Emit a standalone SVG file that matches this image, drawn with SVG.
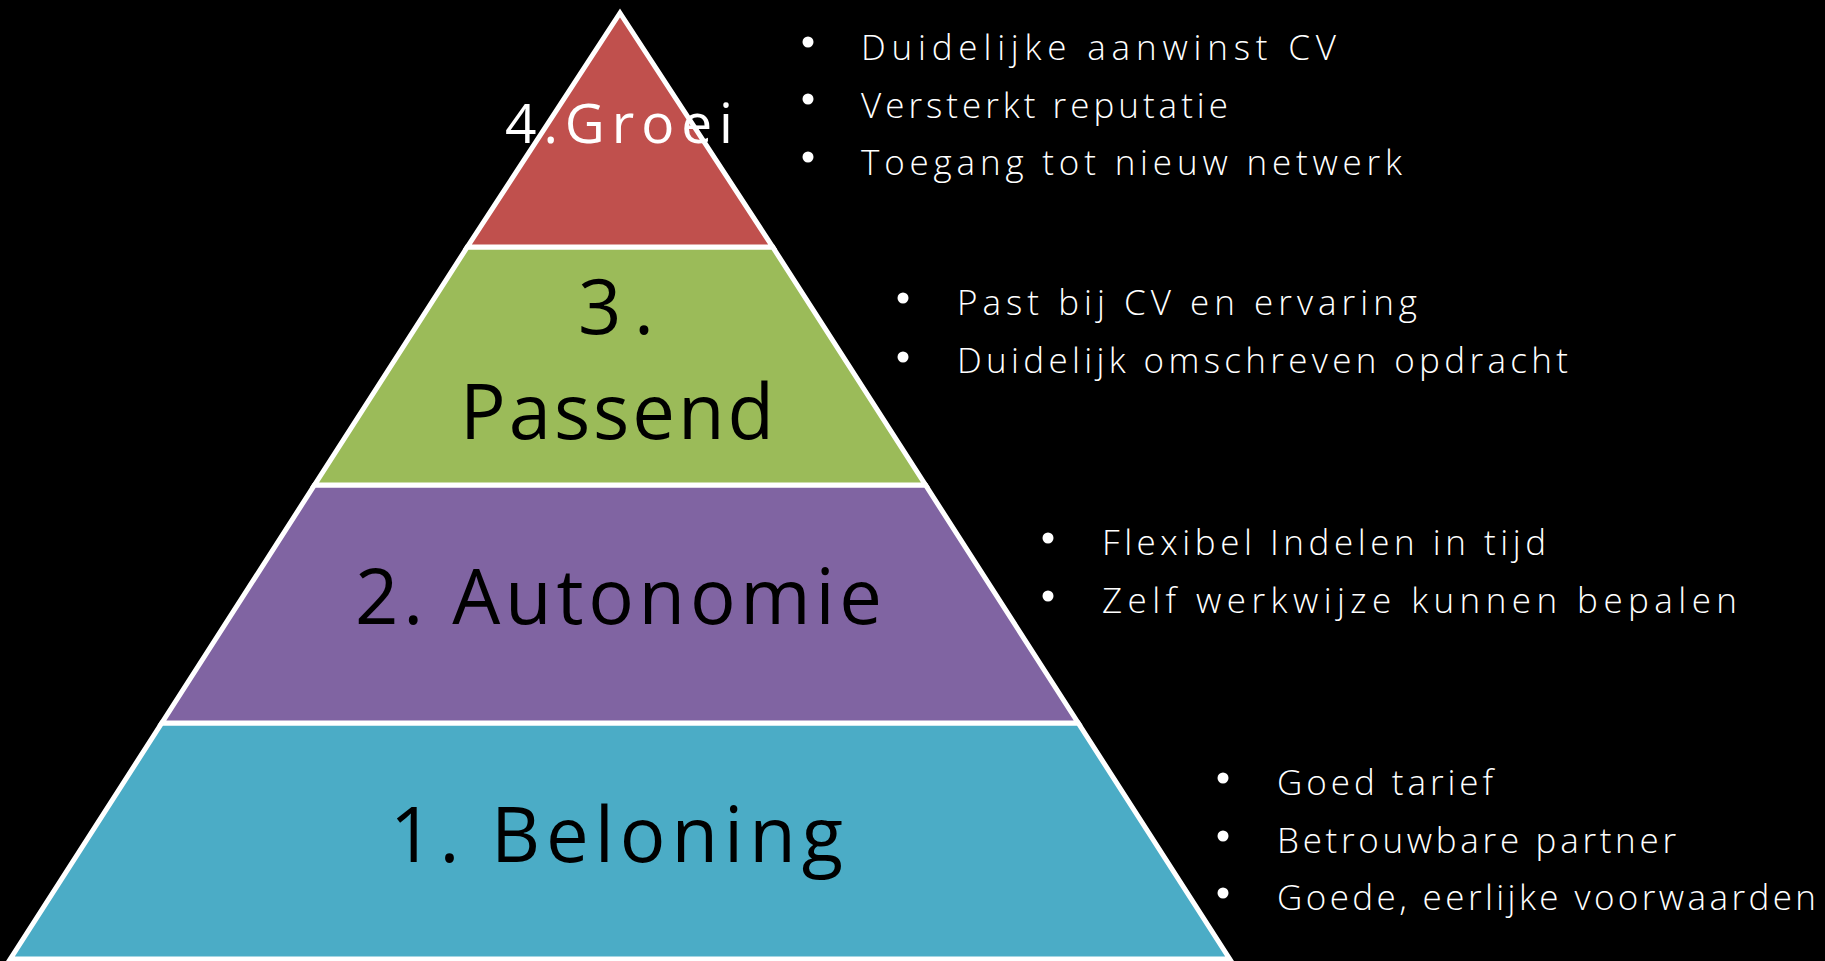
<svg xmlns="http://www.w3.org/2000/svg" width="1825" height="961" viewBox="0 0 1825 961">
  <style>
    .band { stroke: #FFFFFF; stroke-width: 5; stroke-linejoin: miter; }
    .lbl { font-family: "Open Sans", "Liberation Sans", sans-serif; font-size: 76px; fill: #000000; }
    .lbl-w { font-family: "Open Sans", "Liberation Sans", sans-serif; font-size: 55px; fill: #FFFFFF; }
    .item { font-family: "Open Sans", "Liberation Sans", sans-serif; font-weight: 300; font-size: 35px; fill: #FFFFFF; }
    .dot { fill: #FFFFFF; }
  </style>
  <rect x="0" y="0" width="1825" height="961" fill="#000000"/>

  <g id="tier-1-beloning">
    <polygon class="band" fill="#4BACC6" points="161.8,723 1078.2,723 1229.7,959 10.3,959"/>
    <text class="lbl" x="390" y="862" textLength="453" lengthAdjust="spacing">1. Beloning</text>
  </g>
  <g id="tier-2-autonomie">
    <polygon class="band" fill="#8064A2" points="314.5,485 925.5,485 1078.2,723 161.8,723"/>
    <text class="lbl" x="355" y="624" textLength="527" lengthAdjust="spacing">2. Autonomie</text>
  </g>
  <g id="tier-3-passend">
    <polygon class="band" fill="#9BBB59" points="467.3,247 772.7,247 925.5,485 314.5,485"/>
    <text class="lbl" x="578" y="334" textLength="76" lengthAdjust="spacing">3.</text>
    <text class="lbl" x="460" y="439" textLength="314" lengthAdjust="spacing">Passend</text>
  </g>
  <g id="tier-4-groei">
    <polygon class="band" fill="#C0504D" points="620,13 772.7,247 467.3,247"/>
    <text class="lbl-w" x="505" y="143" textLength="228" lengthAdjust="spacing">4.Groei</text>
  </g>

  <g id="bullets-groei">
    <circle class="dot" cx="808" cy="42" r="5.5"/>
    <circle class="dot" cx="808" cy="99" r="5.5"/>
    <circle class="dot" cx="808" cy="157" r="5.5"/>
    <text class="item" x="861" y="60" textLength="475" lengthAdjust="spacing">Duidelijke aanwinst CV</text>
    <text class="item" x="861" y="118" textLength="367" lengthAdjust="spacing">Versterkt reputatie</text>
    <text class="item" x="861" y="175" textLength="541" lengthAdjust="spacing">Toegang tot nieuw netwerk</text>
  </g>
  <g id="bullets-passend">
    <circle class="dot" cx="903" cy="298" r="5.5"/>
    <circle class="dot" cx="903" cy="357" r="5.5"/>
    <text class="item" x="957" y="315" textLength="460" lengthAdjust="spacing">Past bij CV en ervaring</text>
    <text class="item" x="957" y="373" textLength="611" lengthAdjust="spacing">Duidelijk omschreven opdracht</text>
  </g>
  <g id="bullets-autonomie">
    <circle class="dot" cx="1048" cy="538" r="5.5"/>
    <circle class="dot" cx="1048" cy="596" r="5.5"/>
    <text class="item" x="1102" y="555" textLength="444" lengthAdjust="spacing">Flexibel Indelen in tijd</text>
    <text class="item" x="1102" y="613" textLength="635" lengthAdjust="spacing">Zelf werkwijze kunnen bepalen</text>
  </g>
  <g id="bullets-beloning">
    <circle class="dot" cx="1223" cy="778" r="5.5"/>
    <circle class="dot" cx="1223" cy="836" r="5.5"/>
    <circle class="dot" cx="1223" cy="893" r="5.5"/>
    <text class="item" x="1277" y="795" textLength="216" lengthAdjust="spacing">Goed tarief</text>
    <text class="item" x="1277" y="853" textLength="399" lengthAdjust="spacing">Betrouwbare partner</text>
    <text class="item" x="1277" y="910" textLength="539" lengthAdjust="spacing">Goede, eerlijke voorwaarden</text>
  </g>
</svg>
